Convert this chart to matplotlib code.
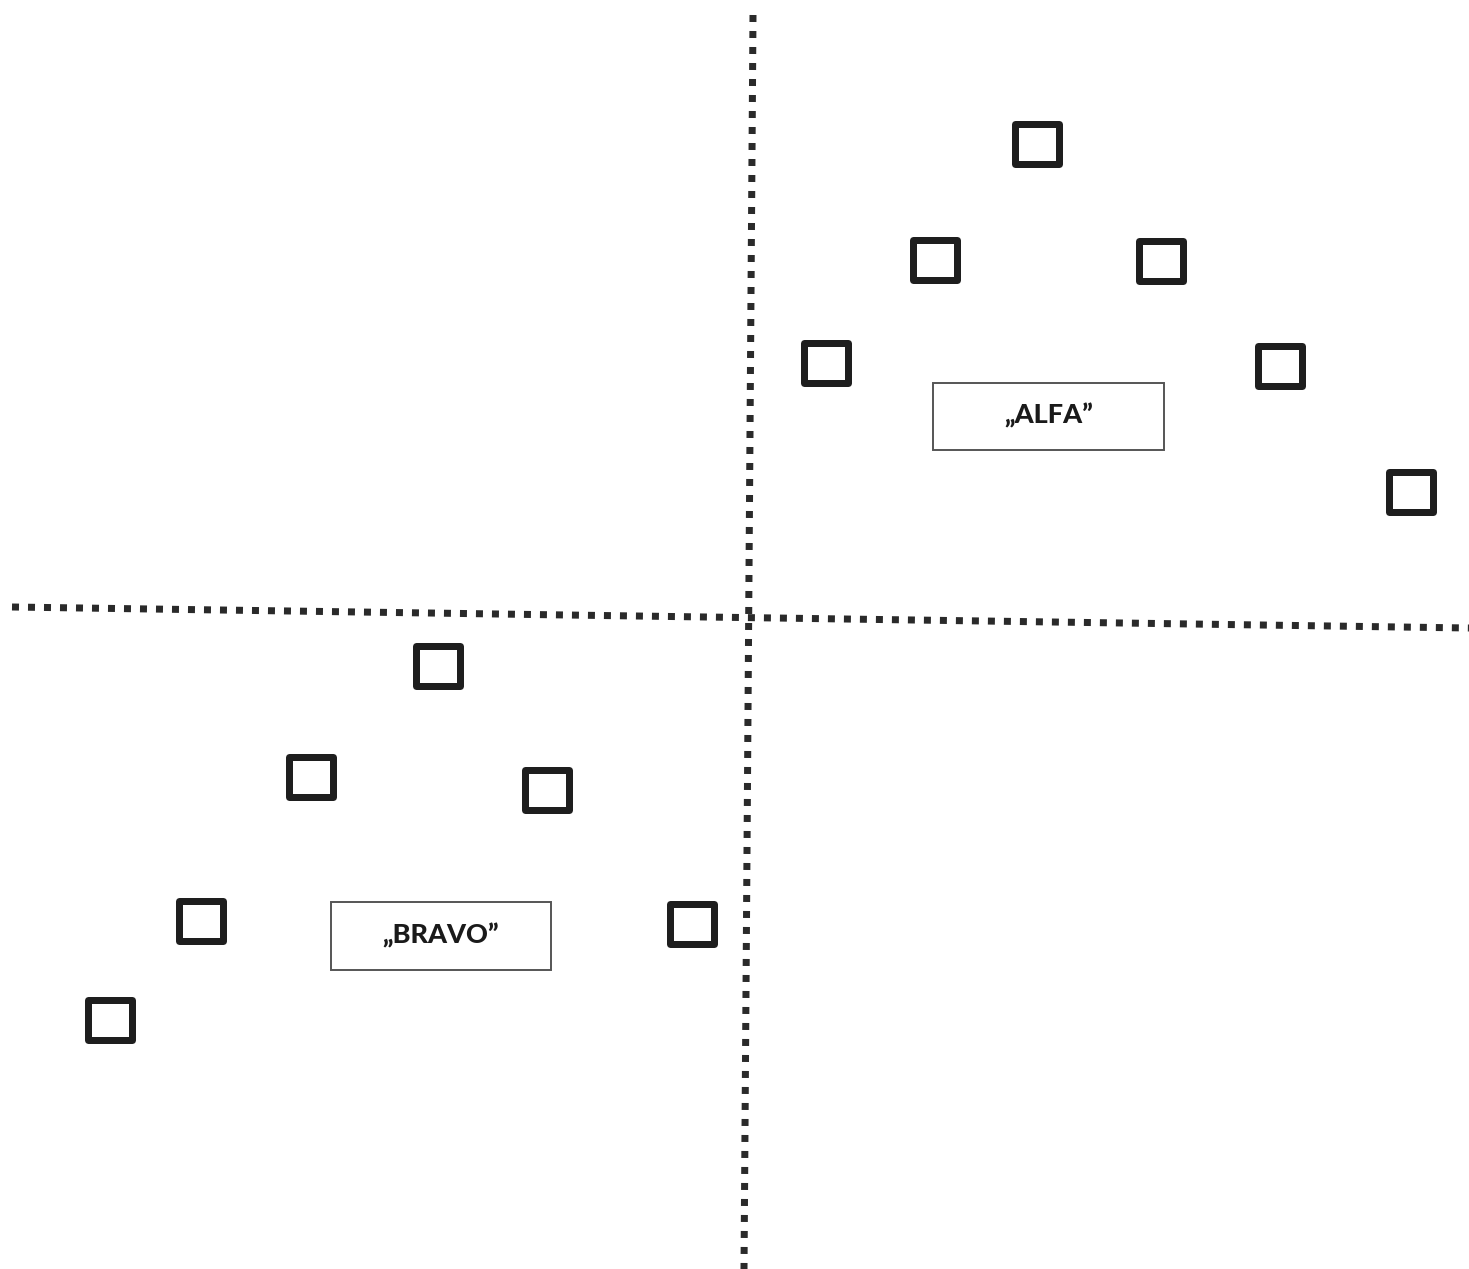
import matplotlib
matplotlib.use("Agg")
import matplotlib.pyplot as plt
from matplotlib.patches import Rectangle
from matplotlib.path import Path
from matplotlib.markers import MarkerStyle

# ---- data (pixel-like units, y downwards) ----
alfa_x = [1037, 935, 1161, 826, 1280, 1411]
alfa_y = [144, 260, 261, 363, 366, 492]
bravo_x = [438, 311, 547, 201, 692, 110]
bravo_y = [666, 777, 790, 921, 924, 1020]

group_labels = ["\u201eALFA\u201d", "\u201eBRAVO\u201d"]
label_x = [1049, 441]
label_y = [415, 935]
box_left = [933, 331]
box_top = [383, 902]
box_width = [231, 220]
box_height = [67, 68]

vaxis_x = [753, 744]
vaxis_y = [15, 1269]
haxis_x = [12, 1469]
haxis_y = [607, 628]

W, H = 1469, 1269
plt.rcParams['lines.scale_dashes'] = False
fig = plt.figure(figsize=(W / 100, H / 100), dpi=100)
ax = fig.add_axes([0, 0, 1, 1])
ax.set_xlim(0, W)
ax.set_ylim(H, 0)
ax.axis('off')

dot_pt = 7 * 72 / 100
gap_pt = 9 * 72 / 100
for xs, ys in [(vaxis_x, vaxis_y), (haxis_x, haxis_y)]:
    ax.plot(xs, ys, color='#2a2a2a', linewidth=dot_pt,
            linestyle=(0, (dot_pt, gap_pt)), dash_capstyle='butt')

r = 1.09
rect_path = Path([(-r, -1), (r, -1), (r, 1), (-r, 1), (-r, -1)], closed=True)
rect_marker = MarkerStyle(rect_path, joinstyle='miter')
mew = 7 * 72 / 100
ms = 44 * 72 / 100
for xs, ys in [(alfa_x, alfa_y), (bravo_x, bravo_y)]:
    ax.plot(xs, ys, linestyle='none', marker=rect_marker, markersize=ms,
            markerfacecolor='white', markeredgecolor='#1e1e1e',
            markeredgewidth=mew)

for i, lab in enumerate(group_labels):
    ax.add_patch(Rectangle((box_left[i], box_top[i]), box_width[i], box_height[i],
                           facecolor='white', edgecolor='#555555', linewidth=1.4))
    ax.text(label_x[i], label_y[i], lab, ha='center', va='center',
            fontsize=19.5, fontweight='black', family=['Lato', 'DejaVu Sans'],
            color='#1a1a1a')

fig.savefig('out.png', dpi=100, facecolor='white')
